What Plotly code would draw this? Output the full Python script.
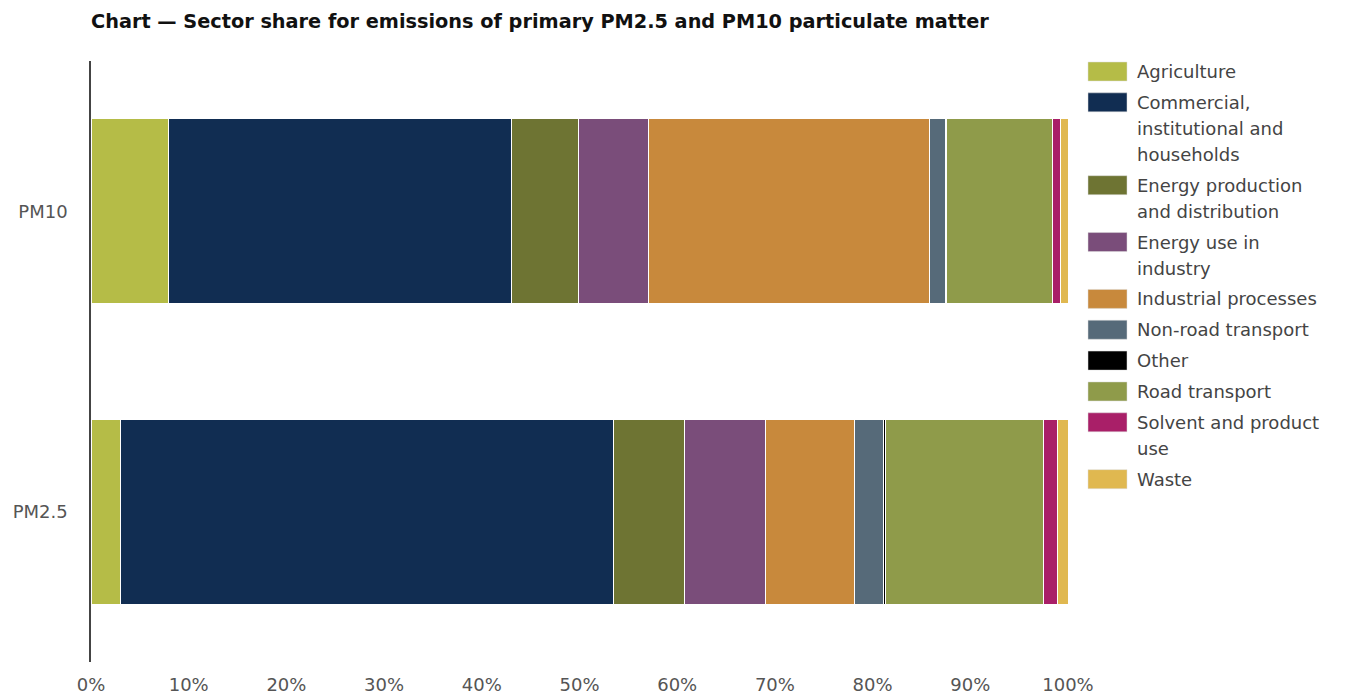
import plotly.graph_objects as go

pollutants = ["PM10", "PM2.5"]
sectors = [
    "Agriculture",
    "Commercial, institutional and households",
    "Energy production and distribution",
    "Energy use in industry",
    "Industrial processes",
    "Non-road transport",
    "Other",
    "Road transport",
    "Solvent and product use",
    "Waste",
]
legend_lines = [
    ["Agriculture"],
    ["Commercial,", "institutional and", "households"],
    ["Energy production", "and distribution"],
    ["Energy use in", "industry"],
    ["Industrial processes"],
    ["Non-road transport"],
    ["Other"],
    ["Road transport"],
    ["Solvent and product", "use"],
    ["Waste"],
]
colors = ["#b5bc47", "#112d52", "#6e7433", "#7a4d7a", "#c8893c",
          "#566a79", "#000000", "#8f9b4a", "#a91f68", "#e0b850"]
# share (%) per sector: [PM10, PM2.5]
shares = [
    [7.9, 3.0],
    [35.1, 50.5],
    [6.9, 7.2],
    [7.2, 8.3],
    [28.7, 9.1],
    [1.7, 3.0],
    [0.1, 0.2],
    [10.8, 16.2],
    [0.8, 1.4],
    [0.8, 1.1],
]
x_ticks = [0, 10, 20, 30, 40, 50, 60, 70, 80, 90, 100]
x_tick_labels = [f"{v}%" for v in x_ticks]

FONT = "DejaVu Sans, Verdana, sans-serif"
W, H = 1352, 696
M_L, M_R, M_T, M_B = 91, 284, 61, 34
plot_h = H - M_T - M_B
plot_w = W - M_L - M_R

fig = go.Figure()
for name, vals, col in zip(sectors, shares, colors):
    fig.add_trace(go.Bar(
        name=name, y=pollutants, x=vals, orientation="h",
        marker=dict(color=col, line=dict(color="white", width=1)),
        showlegend=False,
        hovertemplate="%{y}: %{x}%<extra>" + name + "</extra>",
    ))

# Legend drawn as swatches + text rows to the right of the plot
shapes, annotations = [], []
row_top = 62            # pixel top of first swatch
line_h, item_gap = 26, 4.85
sw_x0, sw_x1, txt_x = 1088, 1127, 1135


def px_to_paper_x(px):
    return (px - M_L) / plot_w


def py_to_paper_y(py):
    return (H - M_B - py) / plot_h


y = row_top
for lines, col in zip(legend_lines, colors):
    shapes.append(dict(
        type="rect", xref="paper", yref="paper",
        x0=px_to_paper_x(sw_x0), x1=px_to_paper_x(sw_x1),
        y0=py_to_paper_y(y + 19), y1=py_to_paper_y(y),
        fillcolor=col, line=dict(color="#dddddd", width=0.5),
    ))
    for k, txt in enumerate(lines):
        annotations.append(dict(
            text=txt, xref="paper", yref="paper",
            x=px_to_paper_x(txt_x), y=py_to_paper_y(y + 9.5 + k * line_h),
            xanchor="left", yanchor="middle", showarrow=False,
            font=dict(family=FONT, size=18, color="#444444"),
        ))
    y += len(lines) * line_h + item_gap

fig.update_layout(
    width=W, height=H,
    margin=dict(l=M_L, r=M_R, t=M_T, b=M_B, autoexpand=False),
    paper_bgcolor="white", plot_bgcolor="white",
    barmode="stack", bargap=0.384,
    font=dict(family=FONT, size=18, color="#555555"),
    title=dict(
        text="<b>Chart — Sector share for emissions of primary PM2.5 and PM10 particulate matter</b>",
        x=91 / W, xanchor="left", y=1 - 21 / H, yanchor="middle",
        font=dict(family=FONT, size=19.3, color="#111111"),
    ),
    xaxis=dict(
        range=[0, 100], tickmode="array", tickvals=x_ticks, ticktext=x_tick_labels,
        showgrid=False, zeroline=False, showline=False, automargin=False,
        ticks="outside", ticklen=6, tickcolor="rgba(0,0,0,0)",
        tickfont=dict(size=18, color="#555555"),
        fixedrange=True,
    ),
    yaxis=dict(
        categoryorder="array", categoryarray=pollutants[::-1],
        showgrid=False, zeroline=False, automargin=False,
        showline=True, linecolor="#444444", linewidth=1.5,
        ticks="outside", ticklen=18, tickcolor="rgba(0,0,0,0)",
        tickfont=dict(size=18, color="#555555"),
        fixedrange=True,
    ),
    shapes=shapes, annotations=annotations,
)

fig.write_html("out.html")
